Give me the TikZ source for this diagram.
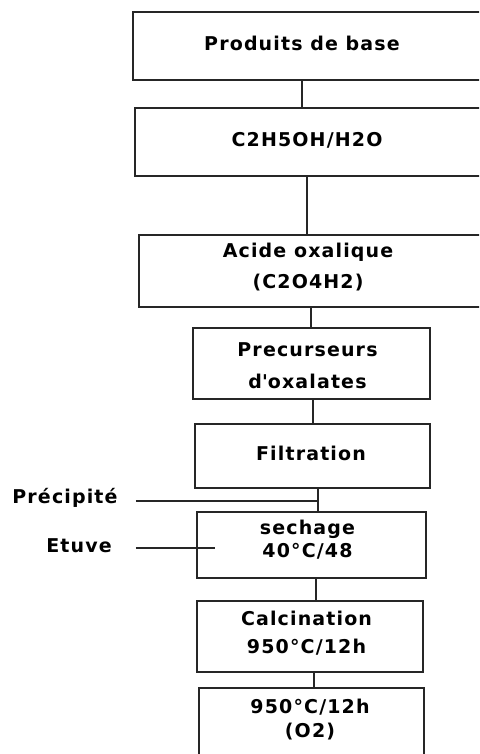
\documentclass[tikz,border=0pt]{standalone}
\usepackage{fontspec}
\setmainfont{DejaVu Sans}[LetterSpace=6]
\begin{document}
\begin{tikzpicture}[x=1pt,y=-1pt,
  box/.style={draw=black!85,line width=1.6pt,inner sep=0pt,outer sep=0pt},
  txt/.style={inner sep=0pt,align=center,font=\bfseries\fontsize{19}{#1}\selectfont},
  txt/.default=22,
  link/.style={draw=black!85,line width=1.5pt}]
\clip (0,0) rectangle (479,754);
\fill[white] (0,0) rectangle (479,754);

% process boxes
\node[box,minimum width=367pt,minimum height=68pt] (b1) at (316.5,46) {};
\node[box,minimum width=365pt,minimum height=68pt] (b2) at (317.5,142) {};
\node[box,minimum width=361pt,minimum height=72pt] (b3) at (319.5,271) {};
\node[box,minimum width=237pt,minimum height=71pt] (b4) at (311.5,363.5) {};
\node[box,minimum width=235pt,minimum height=64pt] (b5) at (312.5,456) {};
\node[box,minimum width=229pt,minimum height=66pt] (b6) at (311.5,545) {};
\node[box,minimum width=226pt,minimum height=71pt] (b7) at (310,636.5) {};
\node[box,minimum width=225pt,minimum height=102pt] (b8) at (311.5,739) {};

% box texts
\node[txt] (t1) at (302,43) {Produits de base};
\node[txt] (t2) at (307,140) {C2H5OH/H2O};
\node[txt=31] (t3) at (308,267.5) {Acide oxalique\\(C2O4H2)};
\node[txt=32] (t4) at (307.5,366) {Precurseurs\\d\textquotesingle oxalates};
\node[txt] (t5) at (311,453) {Filtration};
\node[txt=23] (t6) at (307.5,539.5) {sechage\\40°C/48};
\node[txt=28] (t7) at (306.5,633) {Calcination\\950°C/12h};
\node[txt=24] (t8) at (310,720) {950°C/12h\\(O2)};

% side labels
\node[txt] (pr) at (65,498) {Précipité};
\node[txt] (et) at (79,546) {Etuve};

% connectors
\draw[link] (b1.south -| t1) -- (b2.north -| t1);
\draw[link] (b2.south -| t2) -- (b3.north -| t2);
\draw[link] ([xshift=-0.5pt]b4.north) coordinate (c34) -- (c34 |- b3.south);
\draw[link] ([xshift=0.5pt]b5.north) coordinate (c45) -- (c45 |- b4.south);
\draw[link] ([xshift=5.5pt]b5.south) coordinate (c56) -- (c56 |- b6.north);
\draw[link] ([xshift=4.5pt]b6.south) coordinate (c67) -- (c67 |- b7.north);
\draw[link] ([xshift=4pt]b7.south) coordinate (c78) -- (c78 |- b8.north);

% inputs
\coordinate (j) at (c56 |- 0,501);
\coordinate (e) at (215,548);
\draw[link,shorten <=18pt] (pr.east |- j) -- (j);
\draw[link,shorten <=24pt] (et.east |- e) -- (e);
\end{tikzpicture}
\end{document}
